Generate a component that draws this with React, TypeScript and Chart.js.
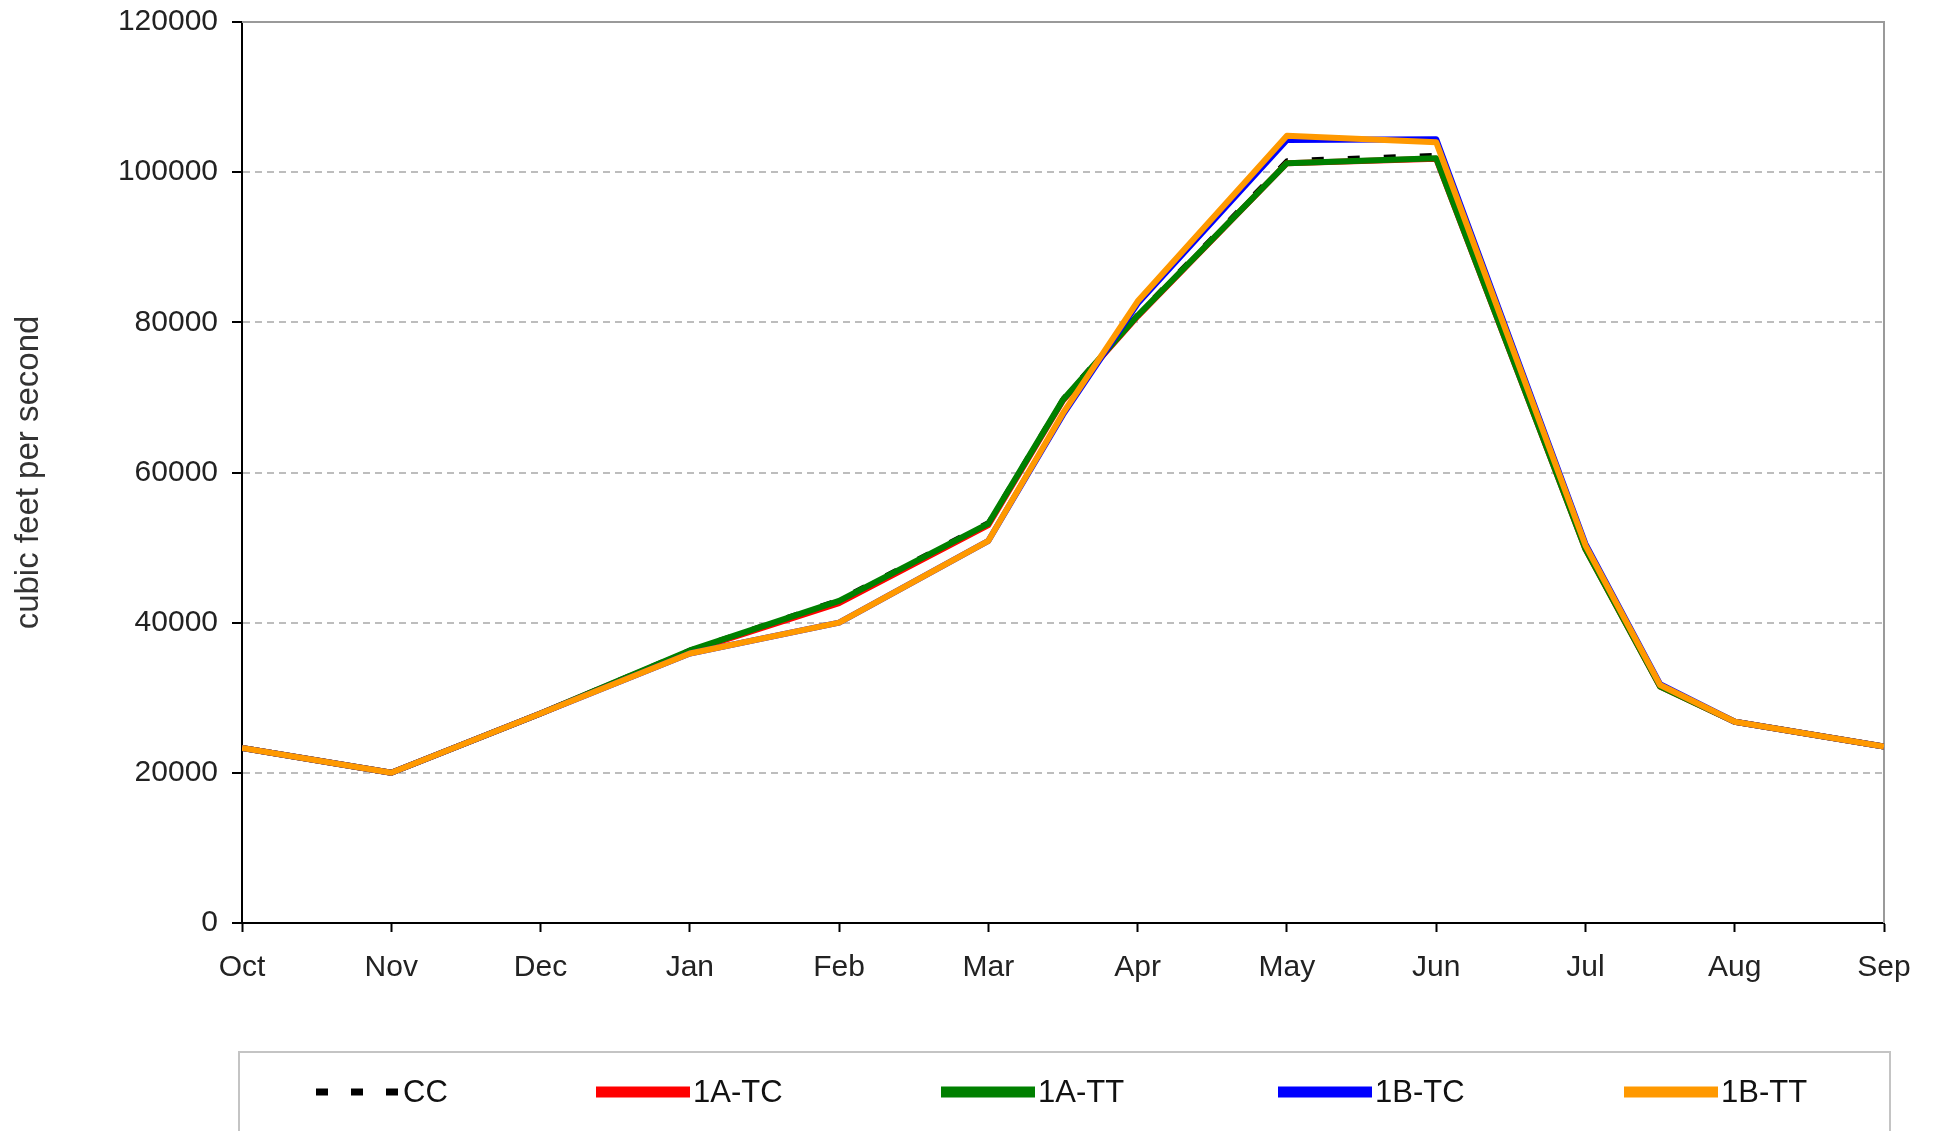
import React, { useEffect, useRef } from "react";
import { Chart, registerables } from "chart.js";

Chart.register(...registerables);

// ---- data ----
const months = ["Oct", "Nov", "Dec", "Jan", "Feb", "Mar", "Apr", "May", "Jun", "Jul", "Aug", "Sep"];
// positions along the water year (0 = Oct ... 11 = Sep), with two mid-month points
const xPositions = [0, 1, 2, 3, 4, 5, 5.5, 6, 7, 8, 9, 9.5, 10, 11];

const seriesNames = ["CC", "1A-TC", "1A-TT", "1B-TC", "1B-TT"];
const ccValues = [23400, 20100, 28000, 36400, 43100, 53400, 69900, 81100, 101600, 102300, 50200, 31800, 26900, 23600];
const tc1aValues = [23300, 20000, 27900, 36200, 42600, 53000, 69600, 80800, 101200, 101800, 49800, 31500, 26800, 23500];
const tt1aValues = [23300, 20000, 27900, 36300, 42900, 53200, 69700, 80900, 101200, 101850, 49800, 31500, 26800, 23500];
const tc1bValues = [23300, 20000, 27900, 35900, 40000, 50900, 67700, 82500, 104300, 104400, 50500, 31800, 26800, 23500];
const tt1bValues = [23300, 20000, 27900, 35900, 40000, 50900, 67900, 82800, 104850, 104000, 50300, 31700, 26800, 23500];

const yTicks = [0, 20000, 40000, 60000, 80000, 100000, 120000];
const yTitle = "cubic feet per second";

// ---- styles ----
const FONT = "'Liberation Sans', Arial, sans-serif";
const seriesColors = ["#000000", "#FF0000", "#008000", "#0000FF", "#FF9900"];
const seriesWidths = [4, 6, 6, 6, 6];
const seriesDash: number[][] = [[12, 24], [], [], [], []];

const framePlugin = {
  id: "frame",
  beforeDatasetsDraw(chart: any) {
    const { ctx, chartArea } = chart;
    ctx.save();
    ctx.strokeStyle = "#9a9a9a";
    ctx.lineWidth = 2;
    ctx.beginPath();
    ctx.moveTo(chartArea.left, chartArea.top);
    ctx.lineTo(chartArea.right, chartArea.top);
    ctx.lineTo(chartArea.right, chartArea.bottom);
    ctx.stroke();
    ctx.restore();
  },
};

const legendPlugin = {
  id: "customLegend",
  afterDraw(chart: any) {
    const { ctx } = chart;
    const boxLeft = 239;
    const boxTop = 1052;
    const boxRight = 1890;
    const cy = 1092;
    const sampleStarts = [316, 596, 941, 1278, 1624];
    const sampleLens = [84, 94, 94, 94, 94];
    ctx.save();
    ctx.strokeStyle = "#c4c4c4";
    ctx.lineWidth = 2;
    ctx.strokeRect(boxLeft, boxTop, boxRight - boxLeft, 200);
    chart.data.datasets.forEach((ds: any, i: number) => {
      const x0 = sampleStarts[i];
      const x1 = x0 + sampleLens[i];
      ctx.beginPath();
      ctx.strokeStyle = ds.borderColor;
      ctx.lineWidth = i === 0 ? 7 : 11;
      ctx.setLineDash(i === 0 ? [12, 23] : []);
      ctx.lineCap = "butt";
      ctx.moveTo(x0, cy);
      ctx.lineTo(x1, cy);
      ctx.stroke();
      ctx.setLineDash([]);
      ctx.fillStyle = "#111";
      ctx.font = `31px ${FONT}`;
      ctx.textBaseline = "middle";
      ctx.textAlign = "left";
      ctx.fillText(ds.label, x1 + 3, cy + 1);
    });
    ctx.restore();
  },
};

export default function App() {
  const canvasRef = useRef<HTMLCanvasElement | null>(null);

  useEffect(() => {
    if (!canvasRef.current) return;
    const valueSets = [ccValues, tc1aValues, tt1aValues, tc1bValues, tt1bValues];
    const datasets = seriesNames.map((name, i) => ({
      label: name,
      data: xPositions.map((x, j) => ({ x, y: valueSets[i][j] })),
      borderColor: seriesColors[i],
      backgroundColor: seriesColors[i],
      borderWidth: seriesWidths[i],
      borderDash: seriesDash[i],
      borderJoinStyle: "round" as const,
      borderCapStyle: "butt" as const,
      pointRadius: 0,
      tension: 0,
      fill: false,
      order: seriesNames.length - i,
    }));

    const tickFont = { family: FONT, size: 30 };

    const chart = new Chart(canvasRef.current, {
      type: "line",
      data: { datasets },
      options: {
        responsive: true,
        maintainAspectRatio: false,
        animation: false,
        layout: { padding: { left: 0, top: 22, right: 51, bottom: 128 } },
        plugins: {
          legend: { display: false },
          tooltip: { enabled: false },
        },
        scales: {
          x: {
            type: "linear",
            min: 0,
            max: months.length - 1,
            afterFit: (s: any) => {
              s.height = 80;
              s.paddingLeft = 0;
              s.paddingRight = 0;
            },
            afterBuildTicks: (s: any) => {
              s.ticks = months.map((_, i) => ({ value: i }));
            },
            ticks: {
              autoSkip: false,
              maxRotation: 0,
              minRotation: 0,
              padding: 18,
              font: tickFont,
              color: "#222",
              callback: (v: any) => months[Math.round(Number(v))] ?? "",
            },
            grid: {
              drawOnChartArea: false,
              drawTicks: true,
              tickLength: 9,
              tickColor: "#000",
              tickWidth: 2,
            },
            border: { display: true, color: "#000", width: 2 },
          },
          y: {
            type: "linear",
            min: 0,
            max: 120000,
            afterFit: (s: any) => {
              s.width = 242;
              s.paddingTop = 0;
              s.paddingBottom = 0;
            },
            afterBuildTicks: (s: any) => {
              s.ticks = yTicks.map((v) => ({ value: v }));
            },
            ticks: {
              padding: 14,
              font: tickFont,
              color: "#222",
              callback: (v: any) => String(v),
            },
            grid: {
              color: "#bdbdbd",
              lineWidth: 2,
              drawTicks: true,
              tickLength: 10,
              tickColor: "#000",
              tickWidth: 2,
            },
            border: { display: true, color: "#000", width: 2, dash: [7, 5] },
            title: {
              display: true,
              text: yTitle,
              font: { family: FONT, size: 33 },
              color: "#333",
              padding: { top: 9, bottom: 0 },
            },
          },
        },
      },
      plugins: [framePlugin, legendPlugin],
    });

    return () => chart.destroy();
  }, []);

  return (
    <div
      style={{
        position: "fixed",
        left: 0,
        top: 0,
        width: "1935px",
        height: "1131px",
        background: "#fff",
      }}
    >
      <canvas ref={canvasRef} />
    </div>
  );
}
